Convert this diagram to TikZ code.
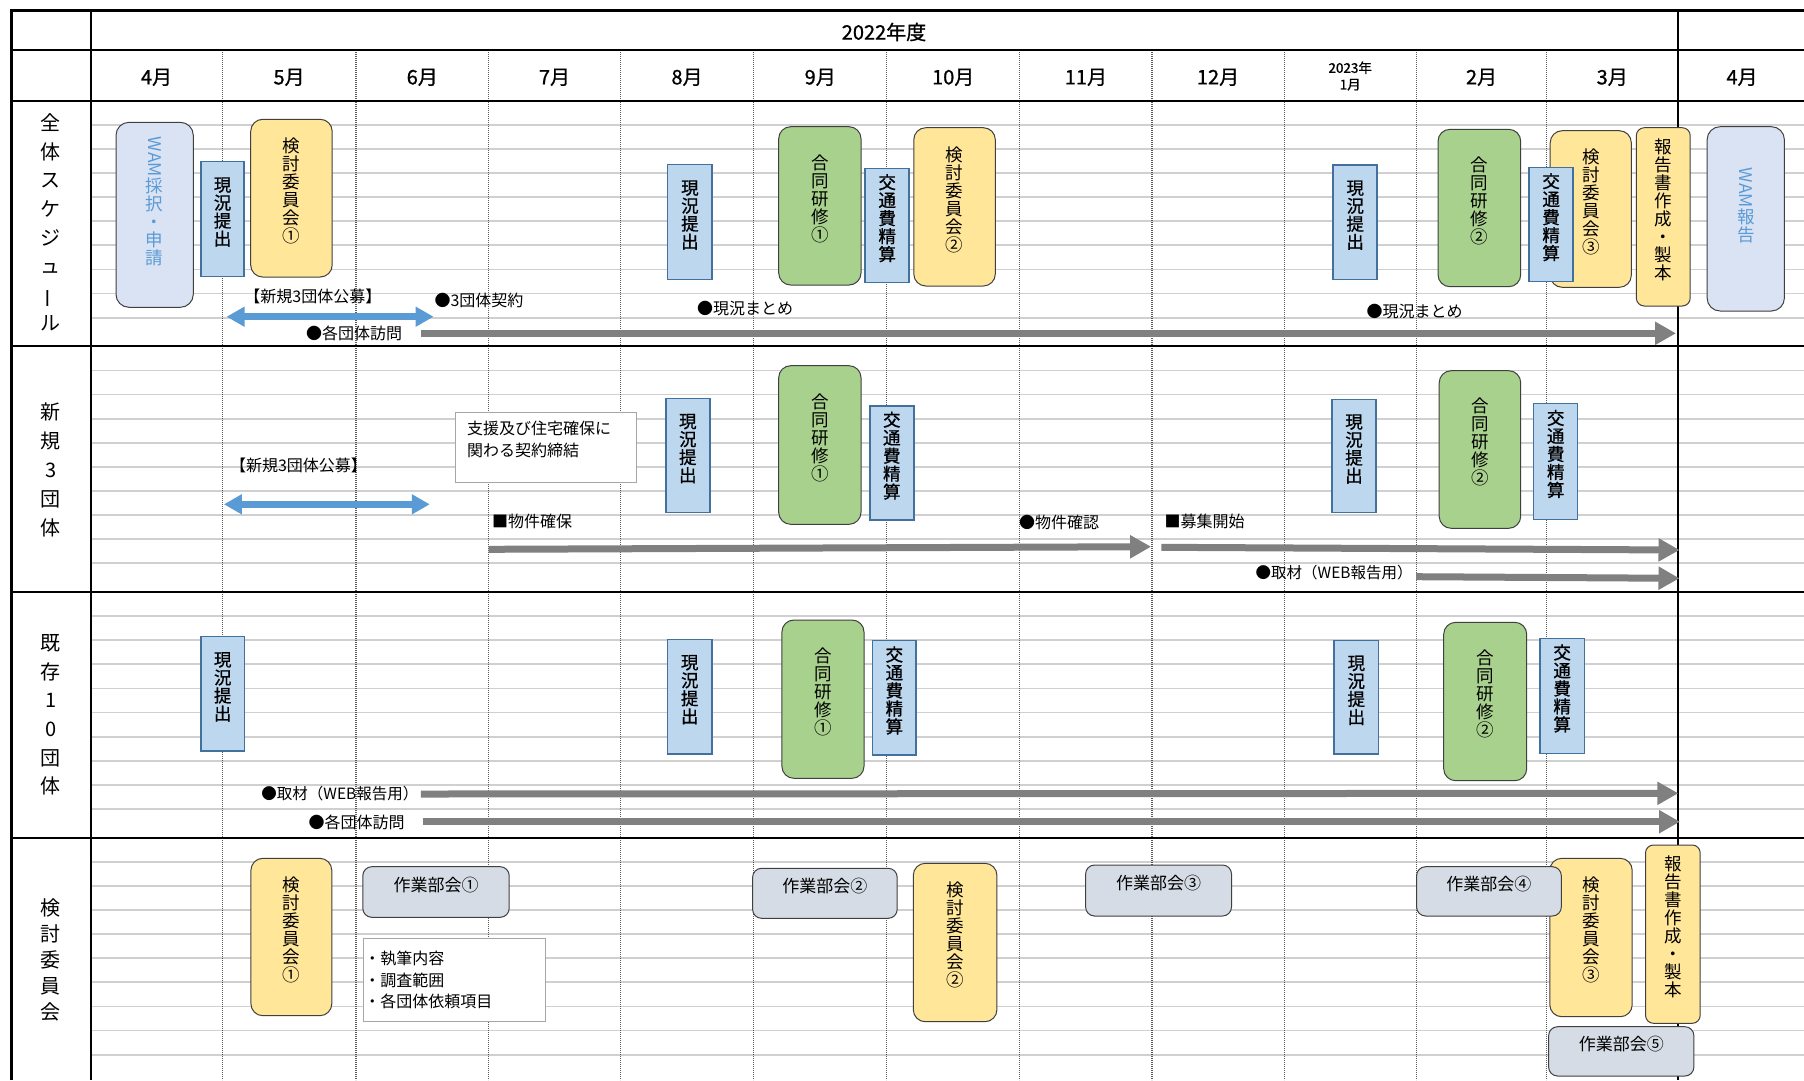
\documentclass[tikz,border=0pt]{standalone}
\usepackage{fontspec}
\usepackage{graphicx}
\setmainfont{Noto Sans CJK JP}
\newfontfamily\semib[FakeBold=0.9]{Noto Sans CJK JP}
\newfontfamily\lightb[FakeBold=0.4]{Noto Sans CJK JP}
\usetikzlibrary{arrows.meta,fit}
\definecolor{cYel}{HTML}{FFE699}
\definecolor{cGrn}{HTML}{A9D18E}
\definecolor{cBlu}{HTML}{BDD7EE}
\definecolor{cBluB}{HTML}{41719C}
\definecolor{cWam}{HTML}{DAE3F3}
\definecolor{cWamT}{HTML}{5B9BD5}
\definecolor{cGry}{HTML}{D6DCE5}
\definecolor{cArr}{HTML}{808080}
\definecolor{cBArr}{HTML}{5B9BD5}
\definecolor{cGrid}{HTML}{D0D0D0}
\definecolor{cDash}{HTML}{5A5A5A}
\definecolor{cEdge}{HTML}{404040}
\definecolor{cNote}{HTML}{A6A6A6}
\tikzset{
  blk/.style={line width=2.2pt, black},
  gridl/.style={line width=1.8pt, cGrid},
  mline/.style={line width=1.3pt, cDash, dash pattern=on 1.2pt off 0.8pt},
  txt/.style={inner sep=0pt, anchor=west, font=\fontsize{16}{19}\selectfont},
  txts/.style={txt, font=\fontsize{15.5}{19}\selectfont},
  vtx/.style={align=center, inner sep=0pt, font=\fontsize{17.5}{18}\selectfont},
  ybox/.style={vtx, draw=cEdge, line width=1pt, fill=cYel, rounded corners=12pt},
  gbox/.style={vtx, draw=cEdge, line width=1pt, fill=cGrn, rounded corners=12pt},
  bbox/.style={vtx, draw=cBluB, line width=1.5pt, fill=cBlu, font=\semib\fontsize{17.5}{18}\selectfont},
  wbox/.style={vtx, draw=cEdge, line width=1pt, fill=cWam, rounded corners=13pt, text=cWamT},
  rbox/.style={vtx, draw=cEdge, line width=1pt, fill=cYel, rounded corners=8pt},
  sbox/.style={draw=cEdge, line width=1pt, fill=cGry, rounded corners=9pt, inner sep=0pt, font=\fontsize{17}{20}\selectfont},
  nbox/.style={draw=cNote, line width=1pt, fill=white, inner sep=0pt},
  garr/.style={line width=7pt, cArr, arrows={-Triangle[length=21pt,width=22pt]}},
  barr/.style={line width=6.5pt, cBArr, arrows={Triangle[length=18pt,width=19pt]-Triangle[length=18pt,width=19pt]}},
  slab/.style={align=center, inner sep=0pt},
  hdr/.style={inner sep=0pt, font=\semib\fontsize{20}{24}\selectfont},
}
\begin{document}
\begin{tikzpicture}[x=1pt,y=-1pt]
\useasboundingbox (0,0) rectangle (1804,1080);
\fill[white] (0,0) rectangle (1804,1080);
\begin{scope}
\clip (0,0) rectangle (1804,1080);
\foreach \t in {100.7,346.3,592,837.7}{
  \foreach \k in {1,...,9}{
    \draw[gridl] (92,{\t+24.1*\k}) -- (1804,{\t+24.1*\k});
  }
}
\foreach \x in {222.3,355.9,488.7,620.3,753.8,886.6,1019.8,1151.9,1284.2,1416.2,1546.7}
  \draw[mline] (\x,50) -- (\x,1080);
\foreach \y in {50,100.7,346.3,592,837.7} \draw[blk] (11,\y) -- (1804,\y);
\draw[blk] (90.7,10) -- (90.7,1080);
\draw[blk] (1677.6,10) -- (1677.6,1080);
\draw[line width=3pt] (11,1080) -- (11,10) -- (1804,10);
\end{scope}

% header
\node[hdr] (year) at (884,32) {2022年度};
\node[hdr] (m4) at (156.5,77.3) {4月};
\node[hdr] (m5) at (289.1,77.3) {5月};
\node[hdr] (m6) at (422.3,77.3) {6月};
\node[hdr] (m7) at (554.5,77.3) {7月};
\node[hdr] (m8) at (687.0,77.3) {8月};
\node[hdr] (m9) at (820.2,77.3) {9月};
\node[hdr] (m10) at (953.2,77.3) {10月};
\node[hdr] (m11) at (1085.9,77.3) {11月};
\node[hdr] (m12) at (1218,77.3) {12月};
\node[inner sep=0pt, align=center, font=\semib\fontsize{13.5}{16.6}\selectfont] (m1) at (1350.2,76) {2023年\\1月};
\node[hdr] (m2) at (1481.5,77.3) {2月};
\node[hdr] (m3) at (1612.2,77.3) {3月};
\node[hdr] (m4b) at (1742,77.3) {4月};

% row labels
\node[slab, font=\fontsize{20}{28.6}\selectfont] (s1) at (50.8,222.7) {全\\体\\ス\\ケ\\ジ\\ュ\\\rotatebox[origin=c]{90}{ー}\\ル};
\node[slab, font=\fontsize{20}{29}\selectfont] (s2) at (50.8,470) {新\\規\\3\\団\\体};
\node[slab, font=\fontsize{20}{28.7}\selectfont] (s3) at (50.8,715) {既\\存\\1\\0\\団\\体};
\node[slab, font=\fontsize{20}{26}\selectfont] (s4) at (50.8,959.5) {検\\討\\委\\員\\会};

% section 1
\node[wbox, fit={(116,122.3) (193.3,307.3)}] (wam1) {\rotatebox[origin=c]{-90}{WAM}\\採\\択\\・\\申\\請};
\node[bbox, fit={(200.9,161.7) (244.2,276.3)}] (g1a) {現\\況\\提\\出};
\node[ybox, fit={(250.7,119.3) (332.2,277)}] (k1a) {検\\討\\委\\員\\会\\①};
\node[bbox, fit={(667.7,164.7) (712.1,279.3)}] (g1b) {現\\況\\提\\出};
\node[gbox, fit={(778.7,126.7) (861,285)}] (j1a) {合\\同\\研\\修\\①};
\node[bbox, fit={(865.2,168.3) (909.2,282.7)}] (t1a) {交\\通\\費\\精\\算};
\node[ybox, fit={(913.8,127.7) (995.3,286)}] (k1b) {検\\討\\委\\員\\会\\②};
\node[bbox, fit={(1333.2,165) (1377.2,279.3)}] (g1c) {現\\況\\提\\出};
\node[gbox, fit={(1438,129.3) (1520.7,286.7)}] (j1b) {合\\同\\研\\修\\②};
\node[ybox, fit={(1550.2,130.7) (1631.3,287.3)}] (k1c) {検\\討\\委\\員\\会\\③};
\node[bbox, fit={(1529.1,167.3) (1573.1,281.7)}] (t1b) {交\\通\\費\\精\\算};
\node[rbox, fit={(1636.3,127.7) (1690.2,306)}] (r1) {報\\告\\書\\作\\成\\・\\製\\本};
\node[wbox, fit={(1707.1,126.7) (1784.4,311)}] (wam2) {\rotatebox[origin=c]{-90}{WAM}\\報\\告};

\node[txt, anchor=center] (lb1) at (312.9,296) {【新規3団体公募】};
\node[txt] (lc1) at (434.4,300) {●3団体契約};
\coordinate (ba1s) at (226.6,316.7);
\coordinate (ba1e) at (433.6,316.7);
\draw[barr] (ba1s) -- (ba1e);
\node[txt] (lv1) at (306,333.3) {●各団体訪問};
\coordinate (ga1s) at (421,333.3);
\coordinate (ga1e) at (1676,333.3);
\draw[garr] (ga1s) -- (ga1e);
\node[txt] (lm1) at (696.8,309) {●現況まとめ};
\node[txt] (lm2) at (1366.5,311.7) {●現況まとめ};

% section 2
\node[nbox, fit={(455.4,412.7) (636.4,482.3)}] (c2) {};
\node[txt, anchor=north west, align=left, font=\fontsize{16}{21.7}\selectfont] (c2t) at (466.9,421) {支援及び住宅確保に\\関わる契約締結};
\node[bbox, fit={(665.8,398.3) (709.8,512.7)}] (g2a) {現\\況\\提\\出};
\node[gbox, fit={(778.7,365.7) (861,524.3)}] (j2a) {合\\同\\研\\修\\①};
\node[bbox, fit={(869.8,406) (913.8,520)}] (t2a) {交\\通\\費\\精\\算};
\node[bbox, fit={(1332,399.3) (1376,512.7)}] (g2b) {現\\況\\提\\出};
\node[gbox, fit={(1439.2,370.7) (1520.7,528.3)}] (j2b) {合\\同\\研\\修\\②};
\node[bbox, fit={(1533.7,403.3) (1577.7,519.3)}] (t2b) {交\\通\\費\\精\\算};

\node[txt, anchor=center] (lb2) at (298.5,465.3) {【新規3団体公募】};
\coordinate (ba2s) at (223.9,504.3);
\coordinate (ba2e) at (429.8,504.3);
\draw[barr] (ba2s) -- (ba2e);
\node[txt] (lp1) at (491.8,521.7) {■物件確保};
\coordinate (gp1s) at (488.7,549.3);
\coordinate (gp1e) at (1151.1,546.7);
\draw[garr] (gp1s) -- (gp1e);
\node[txt] (lp2) at (1019,522.7) {●物件確認};
\node[txt] (lp3) at (1164.5,521.7) {■募集開始};
\coordinate (gp2s) at (1161.4,547.3);
\coordinate (gp2e) at (1679.5,550);
\draw[garr] (gp2s) -- (gp2e);
\node[txts] (lw2) at (1255.5,572.3) {●取材（WEB報告用）};
\coordinate (gw2s) at (1416.2,576.7);
\coordinate (gw2e) at (1679.5,578.3);
\draw[garr] (gw2s) -- (gw2e);

% section 3
\node[bbox, fit={(200.9,636.7) (244.5,751)}] (g3a) {現\\況\\提\\出};
\node[bbox, fit={(667.6,639.3) (711.8,754)}] (g3b) {現\\況\\提\\出};
\node[gbox, fit={(781.9,620) (864,778.3)}] (j3a) {合\\同\\研\\修\\①};
\node[bbox, fit={(872.6,640.7) (916.1,755)}] (t3a) {交\\通\\費\\精\\算};
\node[bbox, fit={(1334.1,640.7) (1378.5,754)}] (g3c) {現\\況\\提\\出};
\node[gbox, fit={(1443.7,622.3) (1526.7,780.7)}] (j3b) {合\\同\\研\\修\\②};
\node[bbox, fit={(1540,638.3) (1584.3,753.3)}] (t3b) {交\\通\\費\\精\\算};
\node[txts] (lw3) at (261.2,794) {●取材（WEB報告用）};
\coordinate (gw3s) at (420.8,794);
\coordinate (gw3e) at (1678.3,793.3);
\draw[garr] (gw3s) -- (gw3e);
\node[txt] (lv3) at (308.3,822.7) {●各団体訪問};
\coordinate (gv3s) at (423,821.7);
\coordinate (gv3e) at (1680,821.7);
\draw[garr] (gv3s) -- (gv3e);

% section 4
\node[ybox, fit={(250.9,858.3) (331.8,1015.7)}] (k4a) {検\\討\\委\\員\\会\\①};
\node[sbox, fit={(362.8,866.7) (509.2,917.3)}] (w4a) {作業部会①};
\node[nbox, anchor=north west, text width=180.6pt, inner xsep=1pt, minimum height=82.4pt, align=left, font=\fontsize{16}{21.2}\selectfont] (n4) at (362.8,938.3) {・執筆内容\\・調査範囲\\・各団体依頼項目};
\node[sbox, fit={(752.6,868.3) (897.2,918.3)}] (w4b) {作業部会②};
\node[ybox, fit={(913.3,863.3) (996.9,1021.7)}] (k4b) {検\\討\\委\\員\\会\\②};
\node[sbox, fit={(1085.6,865) (1231.5,916)}] (w4c) {作業部会③};
\node[ybox, fit={(1549.8,858.3) (1632.2,1016.7)}] (k4c) {検\\討\\委\\員\\会\\③};
\node[sbox, fit={(1416.6,866.7) (1561.3,916)}] (w4d) {作業部会④};
\node[rbox, fit={(1645.5,845) (1700.2,1023.3)}] (r4) {報\\告\\書\\作\\成\\・\\製\\本};
\node[sbox, fit={(1548.6,1026.7) (1693.9,1076)}] (w4e) {作業部会⑤};
\end{tikzpicture}
\end{document}
